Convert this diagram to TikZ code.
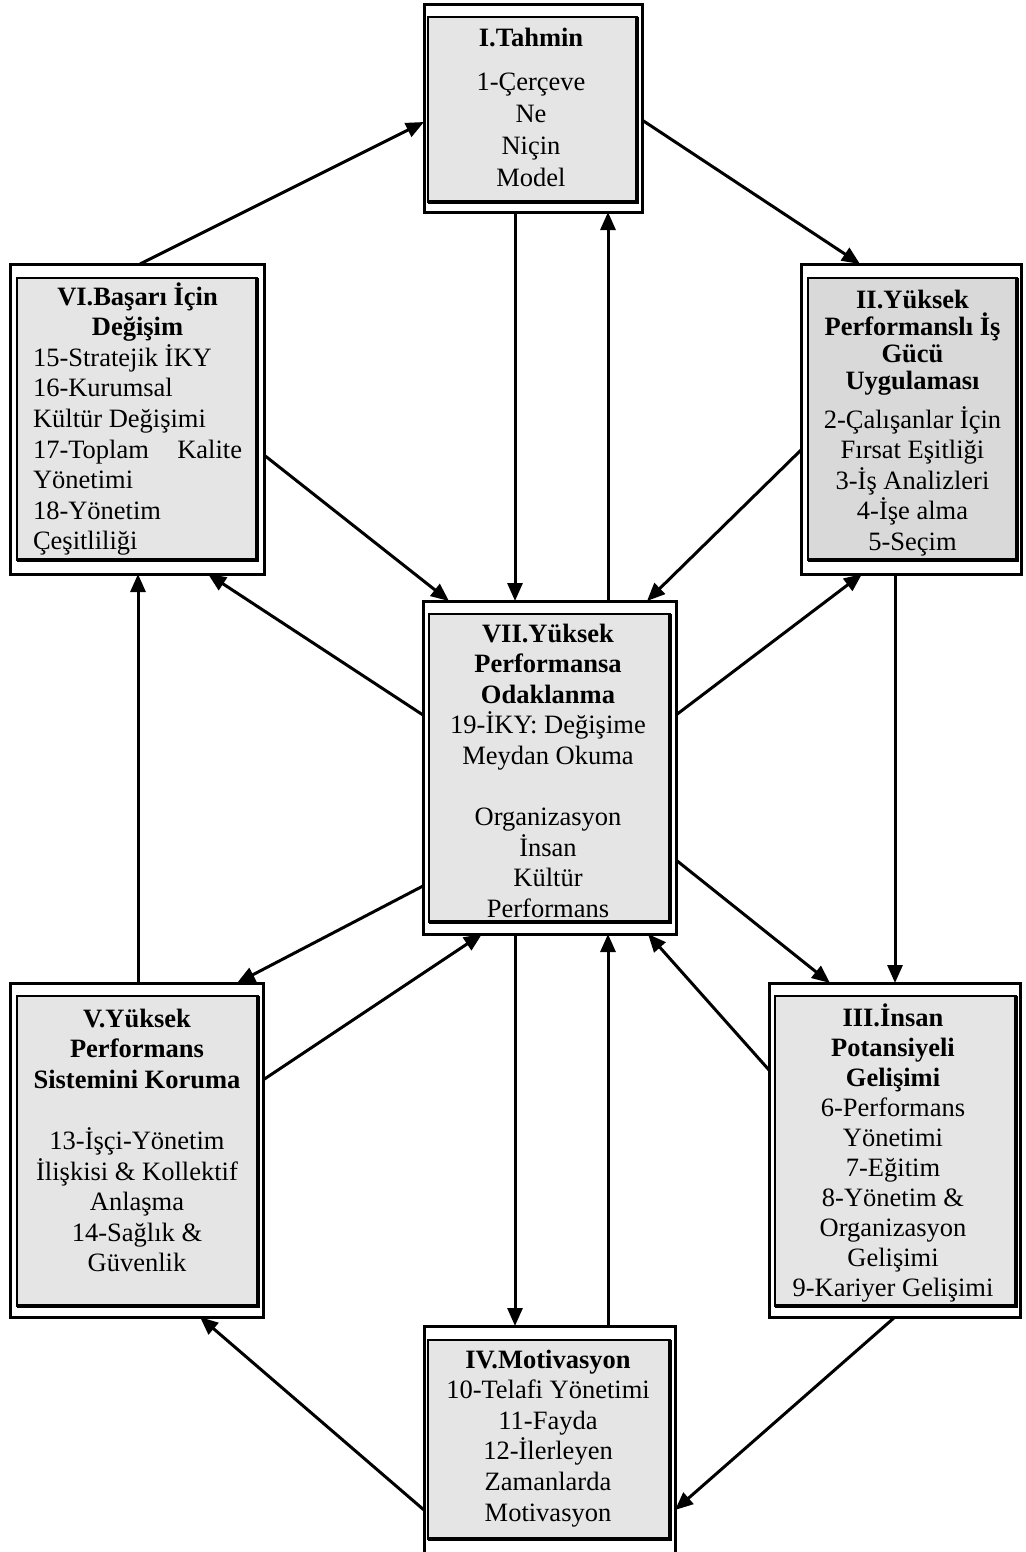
\documentclass[tikz,border=0pt]{standalone}
\usepackage{fontspec}
\setmainfont{Liberation Serif}
\usetikzlibrary{arrows.meta,calc}

\begin{document}
\begin{tikzpicture}[x=1pt,y=-1pt,
  outerbox/.style={draw, line width=3pt, fill=white, inner sep=0pt, outer sep=0pt},
  innerbox/.style={draw, line width=2.2pt, fill=black!10, inner sep=0pt, outer sep=0pt},
  shade/.style={line width=3.6pt},
  txt/.style={font=\fontsize{26.5}{30.6}\selectfont, inner sep=0pt, outer sep=0pt},
  arr/.style={line width=3pt, -{Triangle[length=18pt,width=15pt]}},
]
\useasboundingbox (0,0) rectangle (1025,1552);

% ---------- outer frames ----------
\node[outerbox, minimum width=218pt, minimum height=207pt] (oI)   at (533,108.5) {};
\node[outerbox, minimum width=254pt, minimum height=310pt] (oVI)  at (137,419) {};
\node[outerbox, minimum width=220pt, minimum height=310pt] (oII)  at (911,419) {};
\node[outerbox, minimum width=253pt, minimum height=333pt] (oVII) at (549.5,767.5) {};
\node[outerbox, minimum width=253pt, minimum height=334pt] (oV)   at (136.5,1150) {};
\node[outerbox, minimum width=251pt, minimum height=334pt] (oIII) at (894.5,1150) {};
\node[outerbox, minimum width=251pt, minimum height=230pt] (oIV)  at (549.5,1441) {};

% ---------- shaded inner panels ----------
\node[innerbox, minimum width=209pt, minimum height=185pt] (iI)   at (532.5,109.5) {};
\node[innerbox, minimum width=240pt, minimum height=282pt] (iVI)  at (137,419) {};
\node[innerbox, fill=black!15, minimum width=209pt, minimum height=282pt] (iII) at (912.5,419) {};
\node[innerbox, minimum width=241pt, minimum height=308pt] (iVII) at (549.5,768) {};
\node[innerbox, minimum width=241pt, minimum height=310pt] (iV)   at (137.5,1151) {};
\node[innerbox, minimum width=241pt, minimum height=310pt] (iIII) at (895.5,1151) {};
\node[innerbox, minimum width=242pt, minimum height=199pt] (iIV)  at (549,1439.5) {};
\foreach \n in {iI,iVI,iII,iVII,iV,iIII,iIV}
  \draw[shade] (\n.north east) -- (\n.south east) -- (\n.south west);

% ---------- texts ----------
\node[txt, anchor=base] (tI) at (531,47) {\parbox[t]{210pt}{\centering
  \textbf{I.Tahmin}\par\vspace{12.3pt}
  {\baselineskip=31.7pt 1-Çerçeve\\Ne\\Niçin\\Model\par}}};

\node[txt, anchor=base west] (tVI) at (33,305) {\parbox[t]{209pt}{%
  {\centering\textbf{VI.Başarı İçin}\\\textbf{Değişim}\par}
  {\raggedright 15-Stratejik İKY\\16-Kurumsal\\Kültür Değişimi\\17-Toplam\hfill Kalite\\Yönetimi\\18-Yönetim\\Çeşitliliği\par}}};

\node[txt, anchor=base] (tII) at (912.5,308) {\parbox[t]{212pt}{\centering
  {\bfseries\baselineskip=27pt II.Yüksek\\Performanslı İş\\Gücü\\Uygulaması\par}\vspace{8.5pt}
  2-Çalışanlar İçin\\Fırsat Eşitliği\\3-İş Analizleri\\4-İşe alma\\5-Seçim}};

\node[txt, anchor=base] (tVII) at (548,642) {\parbox[t]{240pt}{\centering
  \textbf{VII.Yüksek}\\\textbf{Performansa}\\\textbf{Odaklanma}\\
  19-İKY: Değişime\\Meydan Okuma\\\mbox{}\\Organizasyon\\İnsan\\Kültür\\Performans}};

\node[txt, anchor=base] (tV) at (137,1027) {\parbox[t]{240pt}{\centering
  \textbf{V.Yüksek}\\\textbf{Performans}\\\textbf{Sistemini Koruma}\\\mbox{}\\
  13-İşçi-Yönetim\\İlişkisi \& Kollektif\\Anlaşma\\14-Sağlık \&\\Güvenlik}};

\node[txt, anchor=base] (tIII) at (893,1026) {\parbox[t]{240pt}{\centering
  {\baselineskip=30.1pt \textbf{III.İnsan}\\\textbf{Potansiyeli}\\\textbf{Gelişimi}\\
  6-Performans\\Yönetimi\\7-Eğitim\\8-Yönetim \&\\Organizasyon\\Gelişimi\\9-Kariyer Gelişimi\par}}};

\node[txt, anchor=base] (tIV) at (548,1368) {\parbox[t]{240pt}{\centering
  \textbf{IV.Motivasyon}\\10-Telafi Yönetimi\\11-Fayda\\12-İlerleyen\\Zamanlarda\\Motivasyon}};

% ---------- connectors ----------
\draw[arr] ($(oVI.north west)+(130,0)$) -- ($(oI.north west)+(0,117)$);
\draw[arr] ($(oI.north east)+(0,115)$) -- ($(oII.north west)+(59,0)$);
\draw[arr] ($(oI.south west)+(91,0)$) -- ($(oVII.north west)+(92,0)$);
\draw[arr] ($(oVII.north west)+(185,0)$) -- ($(oI.south west)+(184,0)$);
\draw[arr] ($(oVI.north east)+(0,191)$) -- ($(oVII.north west)+(26,0)$);
\draw[arr] ($(oVII.north west)+(0,114)$) -- ($(oVI.south west)+(198,0)$);
\draw[arr] ($(oII.north west)+(0,186)$) -- ($(oVII.north east)+(-29,0)$);
\draw[arr] ($(oVII.north east)+(0,114)$) -- ($(oII.south west)+(61,0)$);
\draw[arr] ($(oII.south west)+(94,0)$) -- ($(oIII.north west)+(126,0)$);
\draw[arr] ($(oV.north west)+(128,0)$) -- ($(oVI.south west)+(128,0)$);
\draw[arr] ($(oVII.north west)+(0,285)$) -- ($(oV.north west)+(227,0)$);
\draw[arr] ($(oV.north east)+(0,97)$) -- ($(oVII.south west)+(59,0)$);
\draw[arr] ($(oVII.north east)+(0,259)$) -- ($(oIII.north west)+(61,0)$);
\draw[arr] ($(oIII.north west)+(0,87)$) -- ($(oVII.south east)+(-28,0)$);
\draw[arr] ($(oVII.south west)+(92,0)$) -- ($(oIV.north west)+(91,0)$);
\draw[arr] ($(oIV.north west)+(184,0)$) -- ($(oVII.south west)+(185,0)$);
\draw[arr] ($(oIII.south west)+(126,0)$) -- ($(oIV.north east)+(0,184)$);
\draw[arr] ($(oIV.north west)+(0,184)$) -- ($(oV.south west)+(190,0)$);
\end{tikzpicture}
\end{document}
